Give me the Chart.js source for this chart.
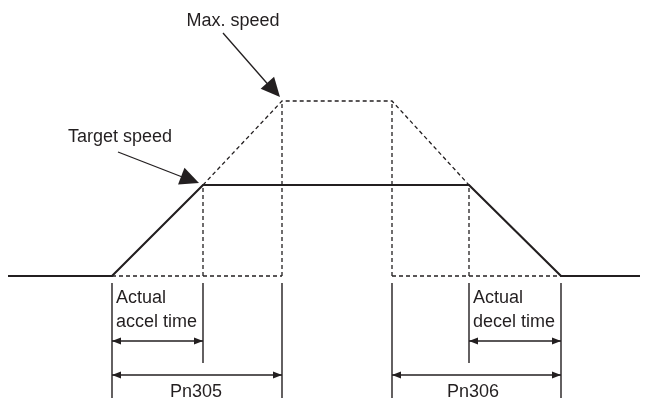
<!DOCTYPE html>
<html>
<head>
<meta charset="utf-8">
<script src="https://cdn.jsdelivr.net/npm/chart.js@4/dist/chart.umd.min.js"></script>
<style>
html,body{margin:0;padding:0;background:#fff;}
#wrap{width:648px;height:401px;position:relative;}
</style>
</head>
<body>
<div id="wrap"><canvas id="c" width="648" height="401"></canvas></div>
<script>
// Time axis (arbitrary units, accel start = 0); speed axis (arbitrary units, stop = 0)
const profileTime  = [-104, 0, 91, 357, 449, 528];
const profileSpeed = [0, 0, 91, 91, 0, 0];
const maxRampTime  = [91, 170, 280, 357];
const maxRampSpeed = [91, 175, 175, 91];
const targetReachTime = 91;   // actual accel end
const pn305End = 170;         // max speed reached
const pn306Start = 280;       // decel from max speed
const decelStartTime = 357;   // actual decel start
const decelEndTime = 449;
const targetSpeedValue = 91;
const maxSpeedValue = 175;
const labels = {
  maxSpeed: "Max. speed",
  targetSpeed: "Target speed",
  actual: "Actual",
  accelTime: "accel time",
  decelTime: "decel time",
  pn305: "Pn305",
  pn306: "Pn306"
};

const INK = '#231f20';
const pts = (xs, ys) => xs.map((x, i) => ({x, y: ys[i]}));
const seg = (x1, y1, x2, y2) => [{x: x1, y: y1}, {x: x2, y: y2}];

const dashed = (data) => ({data, showLine: true, borderColor: INK, borderWidth: 1.3, borderDash: [4, 3], pointRadius: 0, fill: false, spanGaps: false});
const solid = (data, w) => ({data, showLine: true, borderColor: INK, borderWidth: w, pointRadius: 0, fill: false, spanGaps: false});

const tickTop = -7, tickLong = -122, tickShort = -87;
const dimAccel = -65, dimPn = -99;

const datasets = [
  // dashed max-speed profile
  dashed(pts(maxRampTime, maxRampSpeed)),
  // dashed baseline segments
  dashed([{x: 0, y: 0}, {x: pn305End, y: 0}, {x: null, y: null}, {x: pn306Start, y: 0}, {x: decelEndTime, y: 0}]),
  // dashed verticals
  dashed(seg(targetReachTime, 0, targetReachTime, targetSpeedValue)),
  dashed(seg(pn305End, 0, pn305End, maxSpeedValue)),
  dashed(seg(pn306Start, 0, pn306Start, maxSpeedValue)),
  dashed(seg(decelStartTime, 0, decelStartTime, targetSpeedValue)),
  // actual speed profile (solid)
  solid(pts(profileTime, profileSpeed), 2.2),
  // extension lines below
  solid(seg(0, tickTop, 0, tickLong), 1.4),
  solid(seg(targetReachTime, tickTop, targetReachTime, tickShort), 1.4),
  solid(seg(pn305End, tickTop, pn305End, tickLong), 1.4),
  solid(seg(pn306Start, tickTop, pn306Start, tickLong), 1.4),
  solid(seg(decelStartTime, tickTop, decelStartTime, tickShort), 1.4),
  solid(seg(decelEndTime, tickTop, decelEndTime, tickLong), 1.4),
  // dimension lines
  solid(seg(0, dimAccel, targetReachTime, dimAccel), 1.3),
  solid(seg(0, dimPn, pn305End, dimPn), 1.3),
  solid(seg(decelStartTime, dimAccel, decelEndTime, dimAccel), 1.3),
  solid(seg(pn306Start, dimPn, decelEndTime, dimPn), 1.3),
  // leader lines
  solid(seg(111, 243, 160, 187), 1.3),
  solid(seg(6, 124, 78, 96), 1.3)
];

function head(ctx, x1, y1, x2, y2, len, half) {
  const a = Math.atan2(y2 - y1, x2 - x1);
  ctx.beginPath();
  ctx.moveTo(x2, y2);
  ctx.lineTo(x2 - len * Math.cos(a) + half * Math.sin(a), y2 - len * Math.sin(a) - half * Math.cos(a));
  ctx.lineTo(x2 - len * Math.cos(a) - half * Math.sin(a), y2 - len * Math.sin(a) + half * Math.cos(a));
  ctx.closePath();
  ctx.fill();
}

const annot = {
  id: 'annot',
  afterDatasetsDraw(chart) {
    const ctx = chart.ctx, xs = chart.scales.x, ys = chart.scales.y;
    const X = v => xs.getPixelForValue(v), Y = v => ys.getPixelForValue(v);
    ctx.save();
    ctx.fillStyle = INK;
    // leader arrowheads
    head(ctx, X(111), Y(243), X(168), Y(179), 19, 9);
    head(ctx, X(6), Y(124), X(87), Y(93), 19, 9);
    // dimension arrowheads
    const dims = [
      [0, targetReachTime, dimAccel],
      [0, pn305End, dimPn],
      [decelStartTime, decelEndTime, dimAccel],
      [pn306Start, decelEndTime, dimPn]
    ];
    dims.forEach(([a, b, y]) => {
      head(ctx, X(b), Y(y), X(a), Y(y), 9, 3.5);
      head(ctx, X(a), Y(y), X(b), Y(y), 9, 3.5);
    });
    // texts
    ctx.font = '18px "Liberation Sans", Arial, sans-serif';
    ctx.textBaseline = 'middle';
    ctx.textAlign = 'center';
    ctx.fillText(labels.maxSpeed, X(121), Y(255));
    ctx.fillText(labels.targetSpeed, X(8), Y(139));
    ctx.fillText(labels.pn305, X(84), Y(-116));
    ctx.fillText(labels.pn306, X(361), Y(-116));
    ctx.textAlign = 'left';
    ctx.fillText(labels.actual, X(4), Y(-22));
    ctx.fillText(labels.accelTime, X(4), Y(-46));
    ctx.fillText(labels.actual, X(361), Y(-22));
    ctx.fillText(labels.decelTime, X(361), Y(-46));
    ctx.restore();
  }
};

new Chart(document.getElementById('c'), {
  type: 'scatter',
  data: {datasets},
  options: {
    responsive: false,
    animation: false,
    events: [],
    layout: {padding: 0},
    plugins: {legend: {display: false}, tooltip: {enabled: false}},
    scales: {
      x: {type: 'linear', min: -112, max: 536, display: false},
      y: {type: 'linear', min: -125, max: 276, display: false}
    }
  },
  plugins: [annot]
});
</script>
</body>
</html>
